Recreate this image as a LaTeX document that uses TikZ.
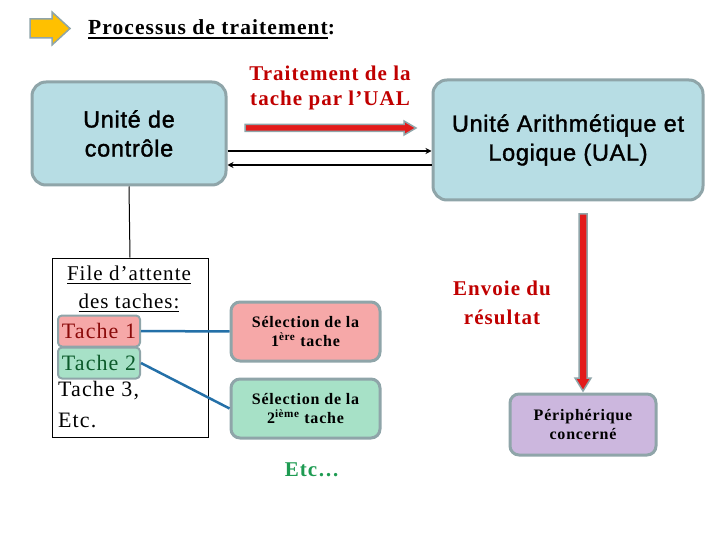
\documentclass[tikz,border=0pt]{standalone}
\usepackage{fontspec}
\setmainfont[LetterSpace=5]{Liberation Serif}
\newfontfamily\arial[LetterSpace=3,FakeBold=1.5]{Liberation Sans}
\usetikzlibrary{arrows.meta}
\definecolor{bluefill}{HTML}{B7DDE4}
\definecolor{borderc}{HTML}{8FA5A9}
\definecolor{pinkfill}{HTML}{F6A8A8}
\definecolor{greenfill}{HTML}{A7E1C7}
\definecolor{lavfill}{HTML}{CCB7DE}
\definecolor{darkred}{HTML}{C00000}
\definecolor{etcgreen}{HTML}{1E9B52}
\definecolor{bluelinec}{HTML}{2470A8}
\definecolor{orangef}{HTML}{FFC000}
\definecolor{redarrow}{HTML}{E31B1B}
\definecolor{t1text}{HTML}{8B0A0A}
\definecolor{t2text}{HTML}{0B5A2A}
\newcommand{\myul}[3]{\setbox0\hbox{#3}\rlap{\rule[#1]{\wd0}{#2}}\box0}
\begin{document}
\begin{tikzpicture}[x=1pt,y=-1pt,
  bigbox/.style={draw=borderc, line width=3pt, fill=bluefill, rounded corners=14pt, align=center, inner sep=0pt},
  selbox/.style={draw=borderc, line width=3pt, rounded corners=9pt, align=center, inner sep=0pt, minimum width=149pt, minimum height=59pt, font=\fontsize{16}{19}\selectfont\bfseries},
  tachebox/.style={draw=borderc, line width=2pt, rounded corners=4pt, inner xsep=2pt, inner ysep=0pt, minimum width=82pt, minimum height=31pt, anchor=west, font=\fontsize{22}{26}\selectfont},
  filetext/.style={font=\fontsize{22}{26}\selectfont, inner sep=0pt},
  blockarrow/.style={draw=borderc, line width=1.5pt, line join=miter},
  link/.style={draw=bluelinec, line width=2.5pt},
  bus/.style={draw=black, line width=1.5pt, -{Stealth[length=6pt,width=6pt]}}
]
\useasboundingbox (0,0) rectangle (720,540);

% title arrow
\draw[blockarrow, fill=orangef] (30,19) -- (52,19) -- (52,12) -- (70,28.5) -- (52,45) -- (52,38) -- (30,38) -- cycle;
\node[anchor=base west, inner sep=0pt, font=\fontsize{21.5}{25}\selectfont\bfseries] (title) at (88,35) {\myul{-4pt}{2pt}{Processus de traitement}:};

% main boxes
\node[bigbox, minimum width=194pt, minimum height=103pt, font=\arial\fontsize{23.5}{29}\selectfont] (uc) at (129,133.5) {Unité de\\contrôle};
\node[bigbox, minimum width=270pt, minimum height=120pt, font=\arial\fontsize{23.5}{29}\selectfont] (ual) at (568,140) {Unité Arithmétique et\\Logique (UAL)};

% traitement label and red arrow
\node[align=center, text=darkred, font=\fontsize{21}{25}\selectfont\bfseries] (trait) at (330,88) {Traitement de la\\tache par l’UAL};
\draw[blockarrow, fill=redarrow] (245,124.5) -- (404,124.5) -- (404,121) -- (416,128) -- (404,135) -- (404,131.5) -- (245,131.5) -- cycle;

% bus arrows
\coordinate (ya) at (0,151);
\coordinate (yb) at (0,165);
\draw[bus] (uc.east |- ya) -- (ual.west |- ya);
\draw[bus] (ual.west |- yb) -- (uc.east |- yb);

% file d'attente
\node[draw=black, line width=1pt, minimum width=156pt, minimum height=179pt, inner sep=0pt] (file) at (130,347.5) {};
\draw[line width=1pt] (uc.south) -- (file.north);
\node[filetext, font=\fontsize{21}{25}\selectfont] (f1) at (129,275) {\myul{-3pt}{1pt}{File d’attente}};
\node[filetext, font=\fontsize{21}{25}\selectfont] (f2) at (129,303) {\myul{-3pt}{1pt}{des taches:}};
\node[tachebox, fill=pinkfill, text=t1text] (t1) at (57,331) {Tache 1};
\node[tachebox, fill=greenfill, text=t2text] (t2) at (57,363) {Tache 2};
\node[filetext, anchor=west] (t3) at (58,391) {Tache 3,};
\node[filetext, anchor=west] (t4) at (58,420) {Etc.};

% selection boxes
\node[selbox, fill=pinkfill] (sel1) at (305.5,331.5) {Sélection de la\\1\textsuperscript{ère} tache};
\node[selbox, fill=greenfill] (sel2) at (305.5,408.5) {Sélection de la\\2\textsuperscript{ième} tache};
\draw[link] (t1.east) -- (sel1.west);
\draw[link] (t2.east) -- (sel2.west);
\node[text=etcgreen, font=\fontsize{21}{25}\selectfont\bfseries] (etc) at (312,470) {Etc…};

% result
\node[align=center, text=darkred, font=\fontsize{21}{29}\selectfont\bfseries] (env) at (502,303) {Envoie du\\résultat};
\draw[blockarrow, fill=redarrow] (579,214) -- (587,214) -- (587,378) -- (591,378) -- (583,391) -- (575,378) -- (579,378) -- cycle;
\node[selbox, fill=lavfill, minimum width=146pt, minimum height=61pt] (per) at (583,424.5) {Périphérique\\concerné};
\end{tikzpicture}
\end{document}
